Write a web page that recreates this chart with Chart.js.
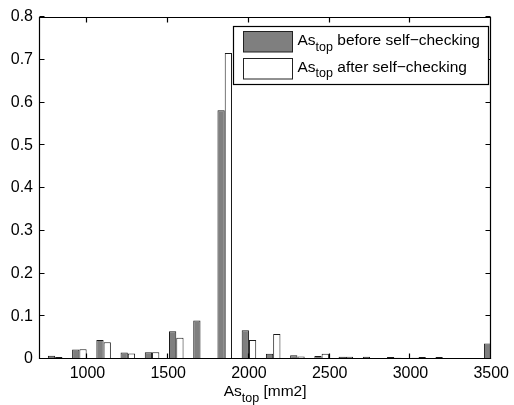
<!DOCTYPE html>
<html>
<head>
<meta charset="utf-8">
<title>As_top before / after self-checking</title>
<script src="https://cdn.jsdelivr.net/npm/chart.js@4.4.1/dist/chart.umd.min.js"></script>
<style>
  html, body { margin: 0; padding: 0; background: #fff; }
  #wrap { position: relative; width: 514px; height: 405px; }
</style>
</head>
<body>
<div id="wrap"><canvas id="chart"></canvas></div>
<script>
// ==== data ====
const binCenters = [800, 950, 1100, 1250, 1400, 1550, 1700, 1850, 2000, 2150,
                    2300, 2450, 2600, 2750, 2900, 3050, 3200, 3350, 3500];
const beforeVals = [0.0078, 0.022, 0.0445, 0.015, 0.016, 0.065, 0.09, 0.582, 0.067, 0.0125,
                    0.0086, 0.007, 0.0055, 0.0055, 0.0047, 0.003, 0.0047, 0.0023, 0.036];
const afterVals  = [0.0047, 0.023, 0.039, 0.013, 0.0156, 0.05, 0, 0.716, 0.0445, 0.0586,
                    0.006, 0.012, 0.0055, 0.002, 0.003, 0.0047, 0.0023, 0.001, 0.002];
const xTicks = [1000, 1500, 2000, 2500, 3000, 3500];
const yTicks = [0, 0.1, 0.2, 0.3, 0.4, 0.5, 0.6, 0.7, 0.8];
const seriesNames = [' before self\u2212checking', ' after self\u2212checking'];
const xTitle = ['As', 'top', ' [mm2]'];

const FONT = "'Liberation Sans', Arial, Helvetica, sans-serif";
const DARK = '#7f7f7f';

// "As" + subscript "top" + rest
function drawSub(ctx, x, y, main, sub, rest, center){
  const big = '15.5px ' + FONT, small = '12.5px ' + FONT;
  ctx.font = big;
  const w1 = ctx.measureText(main).width;
  const w3 = ctx.measureText(rest).width;
  ctx.font = small;
  const w2 = ctx.measureText(sub).width;
  if (center) x -= (w1 + w2 + w3) / 2;
  ctx.textAlign = 'left';
  ctx.textBaseline = 'alphabetic';
  ctx.fillStyle = '#000';
  ctx.font = big;
  ctx.fillText(main, x, y);
  ctx.font = small;
  ctx.fillText(sub, x + w1, y + 5.5);
  ctx.font = big;
  ctx.fillText(rest, x + w1 + w2, y);
}

// box, inward ticks, legend, x title (matlab look)
const matlabFrame = {
  id: 'matlabFrame',
  afterDatasetsDraw(chart){
    const { ctx, chartArea: a, scales: { x, y } } = chart;
    const L = Math.round(a.left) + 0.5, R = Math.round(a.right) - 0.5;
    const T = Math.round(a.top) + 0.5, B = Math.round(a.bottom) - 0.5;
    const tl = 5;
    ctx.save();
    ctx.strokeStyle = '#000';
    ctx.lineWidth = 1.2;
    ctx.beginPath();
    ctx.rect(L, T, R - L, B - T);
    x.ticks.forEach(t => {
      const px = Math.round(x.getPixelForValue(t.value)) - 0.5;
      ctx.moveTo(px, B); ctx.lineTo(px, B - tl);
      ctx.moveTo(px, T); ctx.lineTo(px, T + tl);
    });
    y.ticks.forEach(t => {
      const py = Math.round(y.getPixelForValue(t.value)) - 0.5;
      ctx.moveTo(L, py); ctx.lineTo(L + tl, py);
      ctx.moveTo(R, py); ctx.lineTo(R - tl, py);
    });
    ctx.stroke();

    // legend
    ctx.lineWidth = 1.2;
    ctx.fillStyle = '#fff';
    ctx.fillRect(233.5, 26.5, 255, 58);
    ctx.strokeRect(233.5, 26.5, 255, 58);
    const rows = [{ fill: DARK, top: 31.5, base: 45 }, { fill: '#fff', top: 58.5, base: 71.5 }];
    rows.forEach((r, i) => {
      ctx.fillStyle = r.fill;
      ctx.fillRect(243.5, r.top, 49, 20.5);
      ctx.strokeStyle = '#222';
      ctx.lineWidth = 1;
      ctx.strokeRect(243.5, r.top, 49, 20.5);
      drawSub(ctx, 297.5, r.base, 'As', 'top', seriesNames[i], false);
    });

    // x title
    drawSub(ctx, (a.left + a.right) / 2, 396, xTitle[0], xTitle[1], xTitle[2], true);
    ctx.restore();
  }
};

function init(){
  Chart.defaults.font.family = FONT;
  Chart.defaults.font.size = 16;
  Chart.defaults.color = '#000';

  new Chart(document.getElementById('chart'), {
    type: 'bar',
    data: {
      datasets: [
        {
          label: 'As_top' + seriesNames[0],
          data: binCenters.map((v, i) => ({ x: v, y: beforeVals[i] })),
          backgroundColor: DARK,
          borderColor: '#1a1a1a',
          borderWidth: 1,
          borderSkipped: 'start',
          categoryPercentage: 0.6,
          barPercentage: 1.0
        },
        {
          label: 'As_top' + seriesNames[1],
          data: binCenters.map((v, i) => ({ x: v, y: afterVals[i] })),
          backgroundColor: '#fff',
          borderColor: '#1a1a1a',
          borderWidth: 1,
          borderSkipped: 'start',
          categoryPercentage: 0.6,
          barPercentage: 1.0
        }
      ]
    },
    options: {
      responsive: true,
      maintainAspectRatio: false,
      animation: false,
      layout: { padding: { left: 0, top: 17, right: 18, bottom: 0 } },
      plugins: { legend: { display: false }, tooltip: { enabled: false } },
      scales: {
        x: {
          type: 'linear',
          min: 700,
          max: 3500,
          offset: false,
          grid: { display: false, drawTicks: false },
          border: { display: false },
          afterBuildTicks: s => { s.ticks = xTicks.map(v => ({ value: v })); },
          afterFit: s => { s.height = 46; },
          ticks: { padding: 5, maxRotation: 0, autoSkip: false, callback: v => String(v) }
        },
        y: {
          min: 0,
          max: 0.8,
          grid: { display: false, drawTicks: false },
          border: { display: false },
          afterBuildTicks: s => { s.ticks = yTicks.map(v => ({ value: v })); },
          afterFit: s => { s.width = 39; },
          ticks: { padding: 6, callback: v => String(+v.toFixed(1)) }
        }
      }
    },
    plugins: [matlabFrame]
  });
}

init();
</script>
</body>
</html>
